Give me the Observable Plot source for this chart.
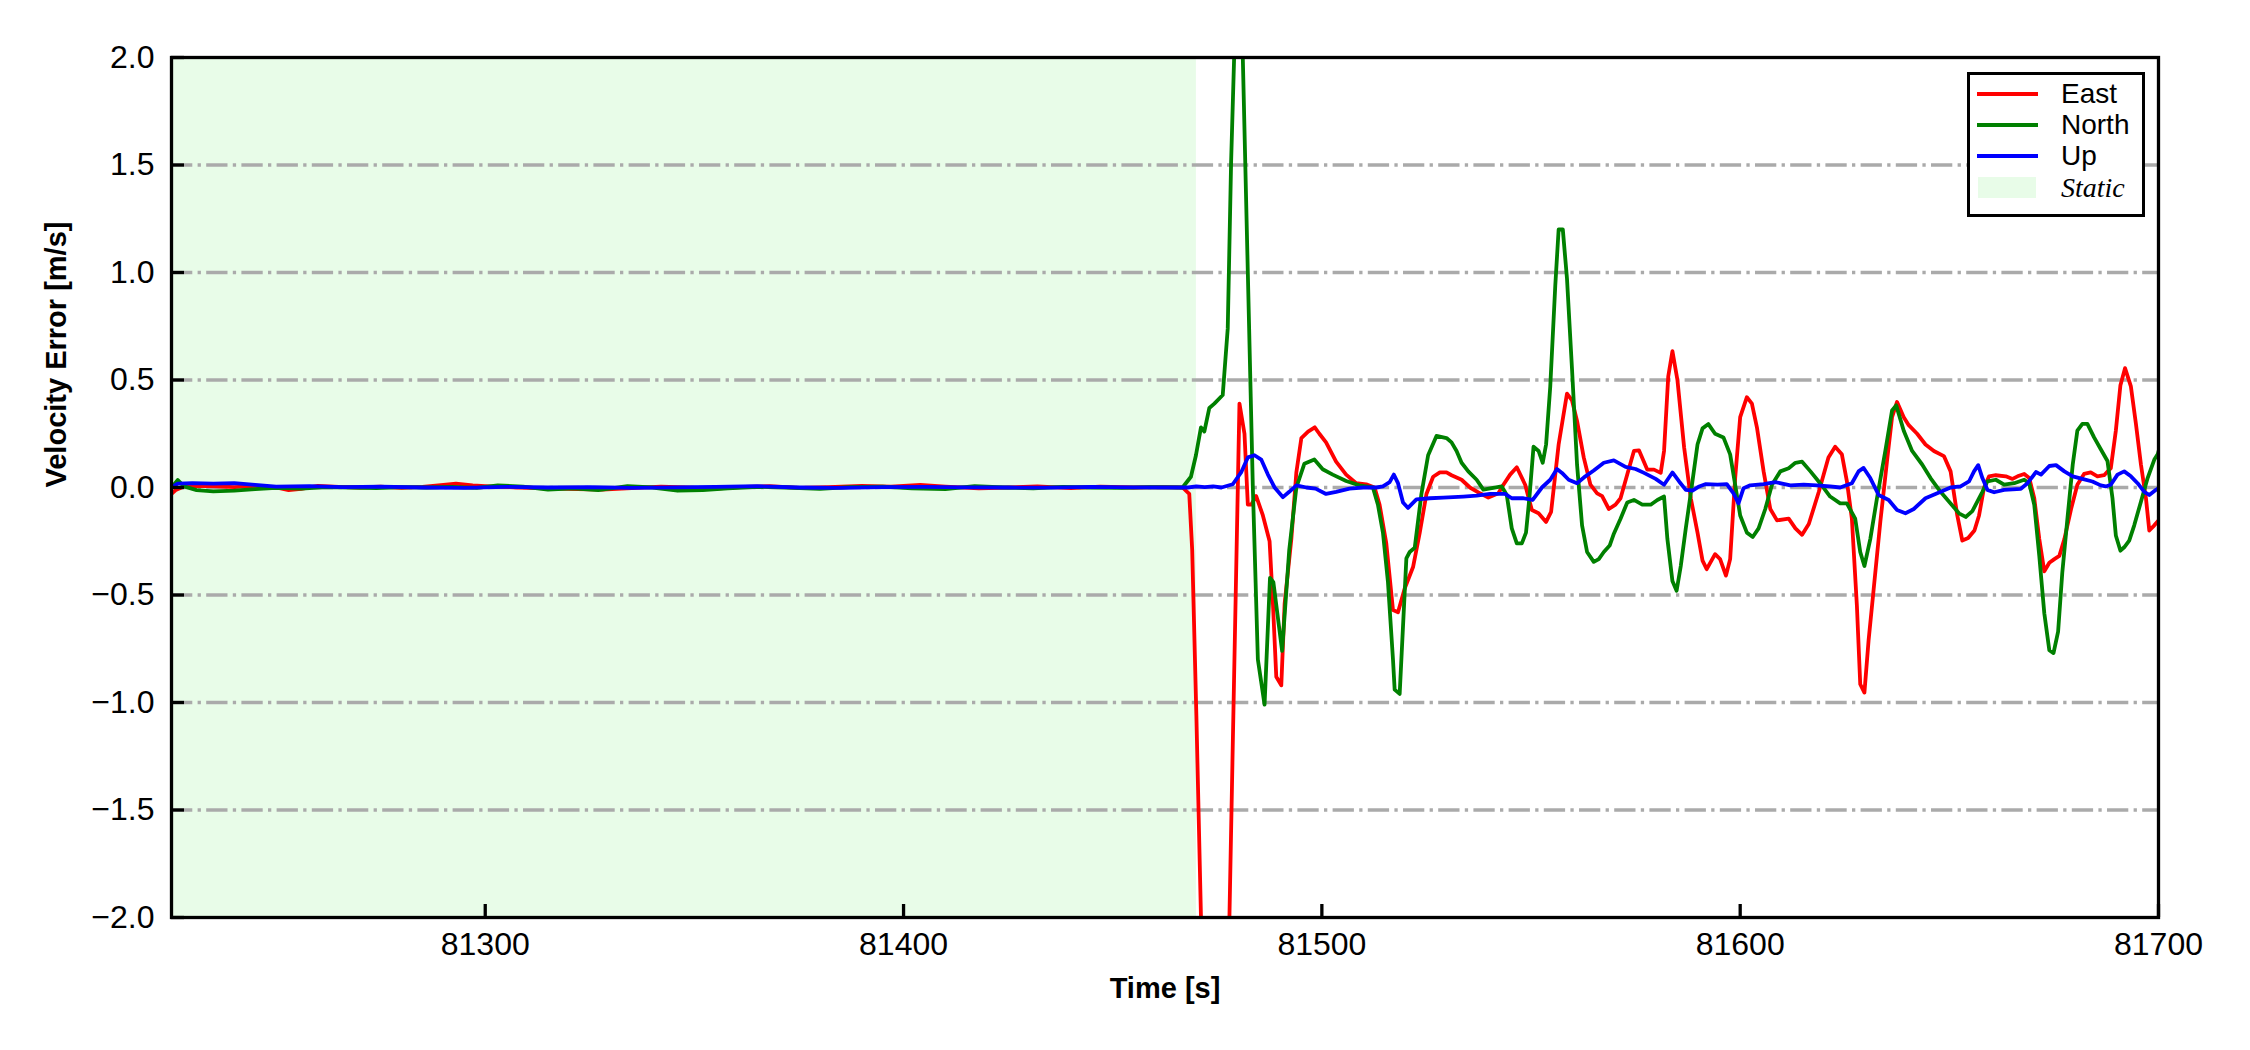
<!DOCTYPE html>
<html>
<head>
<meta charset="utf-8">
<script src="https://cdn.jsdelivr.net/npm/d3@7"></script>
<script src="https://cdn.jsdelivr.net/npm/@observablehq/plot@0.6"></script>
<style>
  html, body { margin: 0; padding: 0; background: #ffffff; }
  #wrap { position: relative; width: 2250px; height: 1050px; font-family: "Liberation Sans", Arial, sans-serif; }
  #legend { position: absolute; left: 1967px; top: 72px; width: 178px; height: 145px; box-sizing: border-box; border: 3.3px solid #000; background: #fff; }
  .handle { position: absolute; left: 7px; width: 61px; height: 4px; }
  .lab { position: absolute; left: 91px; height: 30px; line-height: 30px; font-size: 28px; color: #000; white-space: nowrap; }
  .patch { position: absolute; left: 8px; top: 102px; width: 58px; height: 21px; }
</style>
</head>
<body>
<div id="wrap"></div>
<script>
// ---------------- data ----------------
const seriesNames = ["East", "North", "Up"];
const seriesColors = ["#ff0000", "#008000", "#0000ff"];
const staticLabel = "Static";
const staticColor = "#e8fce8";
const staticStart = 81225;
const staticEnd = 81470;
const xDomain = [81225, 81700];
const yDomain = [-2, 2];
const xTicks = [81300, 81400, 81500, 81600, 81700];
const yTicks = [-2.0, -1.5, -1.0, -0.5, 0.0, 0.5, 1.0, 1.5, 2.0];
const gridY = [-1.5, -1.0, -0.5, 0.0, 0.5, 1.0, 1.5];
const xLabel = "Time [s]";
const yLabel = "Velocity Error [m/s]";

const eastT = [81225, 81226, 81228, 81232, 81236, 81240, 81245, 81250, 81253, 81256, 81260, 81265, 81270, 81275, 81280, 81285, 81290, 81293, 81297, 81302, 81308, 81315, 81322, 81328, 81335, 81342, 81348, 81355, 81362, 81368, 81375, 81382, 81390, 81397, 81404, 81410, 81418, 81425, 81432, 81440, 81447, 81455, 81462, 81466.7,
  81468.3, 81469, 81470, 81471.1, 81473, 81475, 81476.8, 81477.9, 81479, 81480.3, 81481.5, 81482.3, 81483.1, 81484.3, 81485.9, 81487.5, 81488.3, 81489.1, 81490.3, 81491.1, 81492.7, 81493.9, 81495.1, 81496.7, 81498.3, 81499.4, 81501, 81503.4, 81505.8, 81508.2, 81510.6, 81512.6, 81513.8, 81515.4, 81517, 81518.2, 81519.8, 81521.8, 81523.4, 81525, 81526.6, 81528.2, 81529.8,
  81531, 81533.4, 81535.4, 81537.8, 81539.8, 81542.2, 81543.4, 81545, 81546.6, 81548.6, 81550.2, 81551.8, 81553.6, 81554.8, 81556.6, 81558.6, 81559.8, 81561, 81562.6, 81564.2, 81565.8, 81567, 81568.6, 81570.2, 81571.4, 81573, 81574.6, 81575.8, 81577.8, 81579.4, 81581, 81581.8, 81582.8, 81583.8, 81585, 81586.6, 81588.2, 81589.8, 81591, 81592,
  81594, 81595.2, 81596.6, 81597.6, 81598.8, 81600, 81601.6, 81602.8, 81604, 81605.6, 81607.2, 81608.8, 81611.6, 81613.2, 81614.8, 81616.4, 81618.8, 81621.1, 81622.7, 81624.3, 81625.5, 81626.7, 81627.9, 81628.7, 81629.7, 81630.7, 81631.9, 81633.5, 81635.1, 81636.3, 81637.5, 81639.1, 81640.3, 81642.3, 81644.3, 81646.3, 81648.7, 81650.3, 81651.9, 81653.1,
  81654.5, 81656, 81657.1, 81658.3, 81659.5, 81661.1, 81663.5, 81665.1, 81666.3, 81667.9, 81669.1, 81670.3, 81671.5, 81672.7, 81673.9, 81675.1, 81676.3, 81677.5, 81679.1, 81680.6, 81682.2, 81683.8, 81685.4, 81687, 81688.6, 81689.8, 81690.9, 81692, 81693.4, 81694.6, 81695.8, 81697, 81697.8, 81699, 81700, 81700.7];
const eastV = [-0.03, -0.012, 0.005, 0.008, 0.005, 0.002, 0.008, 0.0, -0.012, -0.006, 0.008, 0.003, 0.0, 0.004, -0.002, 0.003, 0.012, 0.018, 0.01, 0.004, 0.0, -0.004, -0.008, -0.01, -0.003, 0.004, 0.0, -0.005, 0.003, 0.006, -0.002, 0.002, 0.008, 0.004, 0.012, 0.004, -0.004, 0.0, 0.005, -0.003, 0.004, 0.0, 0.002, 0.0,
  -0.03, -0.29, -1.06, -2.0, -3.6, -4.1, -3.2, -2.0, -0.9, 0.39, 0.25, -0.08, -0.08, -0.04, -0.13, -0.25, -0.54, -0.88, -0.92, -0.54, -0.24, 0.07, 0.23, 0.26, 0.28, 0.25, 0.21, 0.12, 0.06, 0.02, 0.015, 0.0, -0.08, -0.26, -0.57, -0.58, -0.47, -0.37, -0.21, -0.03, 0.05, 0.07, 0.07,
  0.057, 0.036, 0.0, -0.027, -0.047, -0.027, 0.013, 0.06, 0.094, 0.013, -0.105, -0.12, -0.16, -0.113, 0.2, 0.437, 0.405, 0.31, 0.14, 0.013, -0.027, -0.04, -0.1, -0.08, -0.05, 0.06, 0.17, 0.173, 0.083, 0.083, 0.068, 0.17, 0.516, 0.634, 0.5, 0.186, -0.05, -0.21, -0.34, -0.38,
  -0.31, -0.333, -0.41, -0.333, 0.044, 0.327, 0.42, 0.39, 0.28, 0.075, -0.1, -0.153, -0.145, -0.19, -0.22, -0.17, -0.02, 0.14, 0.19, 0.155, 0.03, -0.145, -0.55, -0.915, -0.954, -0.71, -0.475, -0.16, 0.123, 0.327, 0.398, 0.327, 0.29, 0.25, 0.2, 0.17, 0.146, 0.075, -0.13, -0.247,
  -0.235, -0.2, -0.13, 0.0, 0.052, 0.057, 0.052, 0.04, 0.052, 0.063, 0.044, -0.05, -0.24, -0.39, -0.35, -0.333, -0.318, -0.24, -0.1, 0.013, 0.063, 0.07, 0.052, 0.057, 0.09, 0.264, 0.476, 0.555, 0.47, 0.296, 0.107, -0.05, -0.2, -0.176, -0.153, -0.24];

const northT = [81225, 81226.5, 81228, 81231, 81235, 81240, 81245, 81250, 81256, 81262, 81268, 81274, 81280, 81286, 81292, 81298, 81303, 81309, 81315, 81321, 81327, 81334, 81340, 81346, 81352, 81358, 81365, 81372, 81380, 81387, 81395, 81402, 81410, 81417, 81424, 81431, 81438, 81445, 81452, 81459, 81466.7,
  81468.7, 81469.9, 81471.1, 81471.9, 81473.1, 81474.3, 81476.3, 81477.5, 81478.3, 81479.1, 81479.8, 81480.4, 81481.1, 81482.3, 81483.5, 81484.7, 81486.3, 81487.6, 81488.4, 81490.5, 81492.2, 81493.9, 81495.8, 81498.2, 81500.2, 81502.6, 81505.8, 81509, 81512.2, 81513.4, 81514.6, 81515.8, 81517, 81517.4, 81518.6, 81520.2, 81521, 81522.2, 81523.8, 81525.4, 81527.4, 81529.8,
  81531, 81532.2, 81533.4, 81535, 81537, 81538.6, 81540.6, 81543, 81544.2, 81545.4, 81546.6, 81547.8, 81548.8, 81549.6, 81550.6, 81551.8, 81552.8, 81553.6, 81554.6, 81555.8, 81556.6, 81557.6, 81558.6, 81559.8, 81561, 81562.2, 81563.4, 81565, 81566.2, 81567.4, 81568.8, 81569.8, 81571.4, 81573, 81574.6, 81576.6, 81578.6, 81580.2, 81581.8, 81582.6, 81583.8, 81584.8, 81585.8, 81587, 81588.6, 81589.8, 81591,
  81592.4, 81594, 81596, 81597.6, 81598.8, 81600, 81601.6, 81603, 81604.4, 81606, 81607.6, 81609.6, 81611.6, 81613.2, 81614.8, 81616.8, 81619.1, 81621.5, 81623.9, 81625.5, 81627.5, 81628.7, 81629.7, 81631.1, 81632.7, 81634.7, 81636.3, 81637.3, 81639.1, 81641.1, 81643.5, 81645.5, 81647.9, 81650.3, 81652.3, 81653.9,
  81655.5, 81657.9, 81659.1, 81661.1, 81663.1, 81665.5, 81667.9, 81669.1, 81670.3, 81671.5, 81672.7, 81673.9, 81674.9, 81676, 81677, 81678.3, 81679.5, 81680.6, 81681.8, 81683, 81684.6, 81686.2, 81687.8, 81689, 81689.8, 81690.9, 81691.8, 81693, 81694.2, 81695.8, 81697.4, 81699, 81699.8, 81700.7];
const northV = [0.0, 0.035, 0.005, -0.012, -0.018, -0.015, -0.008, -0.002, -0.005, 0.002, 0.0, -0.003, 0.002, 0.0, 0.003, -0.002, 0.01, 0.004, -0.01, -0.004, -0.012, 0.006, 0.0, -0.015, -0.012, -0.004, 0.003, 0.0, -0.006, 0.002, 0.004, -0.004, -0.008, 0.006, 0.0, -0.004, 0.003, 0.0, -0.002, 0.002, 0.0,
  0.05, 0.15, 0.28, 0.26, 0.37, 0.39, 0.43, 0.74, 1.51, 2.05, 2.4, 2.45, 2.0, 1.0, 0.0, -0.8, -1.01, -0.42, -0.44, -0.76, -0.29, 0.0, 0.11, 0.13, 0.085, 0.06, 0.03, 0.01, 0.0, -0.08, -0.21, -0.44, -0.8, -0.94, -0.96, -0.33, -0.3, -0.28, -0.03, 0.15, 0.24, 0.23,
  0.21, 0.17, 0.115, 0.075, 0.036, -0.01, -0.003, 0.005, -0.035, -0.19, -0.26, -0.26, -0.21, -0.05, 0.19, 0.17, 0.115, 0.2, 0.47, 0.94, 1.2, 1.2, 0.97, 0.55, 0.107, -0.176, -0.3, -0.346, -0.333, -0.3, -0.27, -0.215, -0.145, -0.07, -0.058, -0.08, -0.08, -0.058, -0.042, -0.24, -0.435, -0.48, -0.365, -0.19, 0.03, 0.2, 0.275,
  0.295, 0.25, 0.233, 0.154, 0.013, -0.13, -0.21, -0.23, -0.19, -0.1, 0.013, 0.075, 0.09, 0.115, 0.12, 0.075, 0.02, -0.042, -0.074, -0.074, -0.145, -0.3, -0.365, -0.24, -0.05, 0.17, 0.358, 0.382, 0.264, 0.17, 0.107, 0.044, -0.02, -0.074, -0.12, -0.137,
  -0.11, -0.02, 0.028, 0.036, 0.013, 0.02, 0.036, 0.02, -0.08, -0.318, -0.585, -0.757, -0.77, -0.67, -0.396, -0.13, 0.107, 0.264, 0.296, 0.296, 0.233, 0.178, 0.123, -0.05, -0.223, -0.294, -0.278, -0.247, -0.176, -0.066, 0.044, 0.13, 0.154, 0.217];

const upT = [81225, 81226.5, 81230, 81235, 81240, 81245, 81250, 81258, 81266, 81275, 81285, 81295, 81305, 81315, 81325, 81335, 81345, 81355, 81365, 81375, 81385, 81395, 81405, 81415, 81425, 81435, 81445, 81455, 81466.7,
  81468, 81470, 81472, 81474, 81476, 81478.7, 81480.7, 81482.3, 81483.9, 81485.5, 81487.1, 81488.7, 81490.7, 81492.2, 81493.9, 81496.3, 81498.5, 81501, 81503.4, 81506.6, 81509.8, 81513, 81514.6, 81516.2, 81517.2, 81518.2, 81519.4, 81520.6, 81522.6, 81525.8, 81529,
  81533.8, 81537, 81540.2, 81543.8, 81545.4, 81548.2, 81550.4, 81552.6, 81554.6, 81556.2, 81557.4, 81559, 81561, 81563, 81565, 81567.4, 81569.8, 81572.6, 81575, 81577, 81579.8, 81581.8, 81583.8, 81585.4, 81587, 81588.6, 81590.2, 81591.8, 81594.6,
  81596.8, 81598.4, 81599.6, 81600.8, 81602.4, 81605.6, 81608.4, 81612, 81615.2, 81618.3, 81621.5, 81623.9, 81626.7, 81628.3, 81629.5, 81631.1, 81633.1, 81635.5, 81637.5, 81639.5, 81641.5, 81644.3, 81647.1, 81650.3, 81652.7, 81654.7, 81655.9, 81656.9, 81657.9,
  81659.1, 81660.7, 81663.1, 81667.1, 81668.7, 81670.7, 81671.9, 81673.9, 81675.5, 81677.5, 81679.5, 81681.8, 81684.2, 81686.2, 81687.4, 81688.6, 81690.2, 81691.8, 81693.4, 81695, 81696.6, 81697.8, 81699.4, 81700.7];
const upV = [0.0, 0.018, 0.02, 0.018, 0.02, 0.012, 0.004, 0.006, 0.002, 0.004, 0.0, -0.002, 0.003, 0.0, 0.002, -0.002, 0.001, 0.003, 0.006, 0.0, -0.002, 0.002, 0.003, 0.001, 0.0, -0.001, 0.003, 0.001, 0.0,
  0.0, 0.005, 0.002, 0.005, 0.0, 0.015, 0.07, 0.14, 0.15, 0.13, 0.06, 0.0, -0.045, -0.02, 0.01, 0.0, -0.005, -0.03, -0.02, -0.005, 0.0, 0.0, 0.005, 0.025, 0.06, 0.02, -0.07, -0.095, -0.055, -0.05, -0.047,
  -0.042, -0.038, -0.03, -0.03, -0.05, -0.05, -0.058, 0.0, 0.036, 0.086, 0.068, 0.036, 0.02, 0.052, 0.079, 0.115, 0.126, 0.096, 0.086, 0.068, 0.04, 0.013, 0.07, 0.028, -0.011, -0.014, 0.005, 0.016, 0.013,
  0.016, -0.027, -0.074, -0.003, 0.01, 0.016, 0.025, 0.01, 0.013, 0.01, 0.005, 0.0, 0.02, 0.075, 0.091, 0.044, -0.035, -0.058, -0.105, -0.12, -0.1, -0.05, -0.027, 0.0, 0.005, 0.028, 0.075, 0.104, 0.044,
  -0.011, -0.022, -0.011, -0.006, 0.02, 0.072, 0.06, 0.1, 0.104, 0.075, 0.052, 0.04, 0.028, 0.01, 0.005, 0.013, 0.06, 0.075, 0.052, 0.02, -0.02, -0.035, -0.011, 0.005];

// ---------------- build ----------------
const toRows = (ts, vs) => ts.map((t, i) => ({ t, v: vs[i] }));
const east = toRows(eastT, eastV);
const north = toRows(northT, northV);
const up = toRows(upT, upV);
const seriesData = [east, north, up];

const FONT = '"Liberation Sans", Arial, sans-serif';
const LW = 3.3;

const chart = Plot.plot({
  width: 2250,
  height: 1050,
  marginLeft: 171,
  marginRight: 92,
  marginTop: 57,
  marginBottom: 133,
  style: { background: "#ffffff", fontFamily: FONT, color: "#000" },
  x: { domain: xDomain, ticks: xTicks, label: null },
  y: { domain: yDomain, ticks: yTicks, label: null },
  marks: [
    Plot.rect([{ start: staticStart, end: staticEnd }], { x1: "start", x2: "end", fill: staticColor }),
    Plot.ruleY(gridY, { y: d => d, stroke: "#aaaaaa", strokeWidth: LW, strokeDasharray: "21.3,5.3,3.3,5.3" }),
    ...seriesData.map((data, i) => Plot.line(data, { x: "t", y: "v", stroke: seriesColors[i], strokeWidth: 3.8, clip: true, strokeLinejoin: "round" })),
    Plot.frame({ stroke: "#000", strokeWidth: LW }),
    Plot.axisY({ ticks: yTicks, tickFormat: d3.format(".1f"), tickSize: 13, dx: 13, tickPadding: 17, strokeWidth: LW, fontSize: 32, label: null, fill: "#000", stroke: "#000" }),
    Plot.axisX({ ticks: xTicks, tickFormat: d => String(d), tickSize: 13, dy: -13, tickPadding: 15, strokeWidth: LW, fontSize: 32, label: null, fill: "#000", stroke: "#000" }),
    Plot.text([xLabel], { text: d => d, frameAnchor: "bottom", dy: 80, fontSize: 29, fontWeight: "bold", fill: "#000" }),
    Plot.text([yLabel], { text: d => d, frameAnchor: "left", rotate: -90, dx: -115, fontSize: 29, fontWeight: "bold", fill: "#000" })
  ]
});

const wrap = document.getElementById("wrap");
wrap.appendChild(chart);

// legend (matplotlib-style box in the upper right)
const legend = document.createElement("div");
legend.id = "legend";
const rowCenters = [19, 50.4, 81.4];
seriesNames.forEach((name, i) => {
  const h = document.createElement("div");
  h.className = "handle";
  h.style.top = (rowCenters[i] - 2) + "px";
  h.style.background = seriesColors[i];
  legend.appendChild(h);
  const l = document.createElement("div");
  l.className = "lab";
  l.style.top = (rowCenters[i] - 15) + "px";
  l.textContent = name;
  legend.appendChild(l);
});
const p = document.createElement("div");
p.className = "patch";
p.style.background = staticColor;
legend.appendChild(p);
const sl = document.createElement("div");
sl.className = "lab";
sl.style.top = (112.5 - 15) + "px";
sl.style.fontFamily = '"Liberation Serif", "Times New Roman", serif';
sl.style.fontStyle = "italic";
sl.textContent = staticLabel;
legend.appendChild(sl);
wrap.appendChild(legend);
</script>
</body>
</html>
